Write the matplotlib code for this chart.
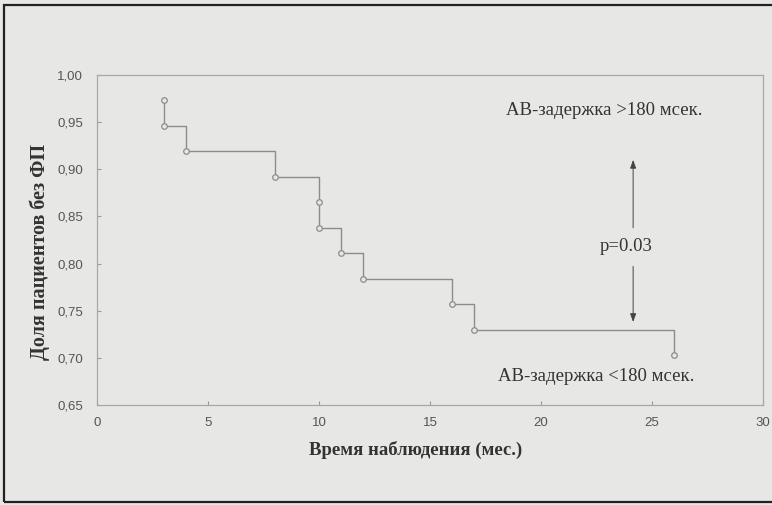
import matplotlib
matplotlib.use("Agg")
import matplotlib.pyplot as plt
from matplotlib.patches import Rectangle
from matplotlib.ticker import FuncFormatter

# Kaplan-Meier data (AV delay <180 ms group)
times = [3, 3, 4, 8, 10, 10, 11, 12, 16, 17, 26]
surv = [0.973, 0.946, 0.919, 0.892, 0.865, 0.838, 0.811, 0.784, 0.757, 0.730, 0.703]

x_ticks = [0, 5, 10, 15, 20, 25, 30]
y_ticks = [0.65, 0.70, 0.75, 0.80, 0.85, 0.90, 0.95, 1.00]

xlabel = "Время наблюдения (мес.)"
ylabel = "Доля пациентов без ФП"
label_hi = "АВ-задержка >180 мсек."
label_lo = "АВ-задержка <180 мсек."
p_text = "p=0.03"

bg = "#e7e7e5"
fig = plt.figure(figsize=(7.72, 5.05), dpi=100, facecolor=bg)
ax = fig.add_axes([97/772, 1-405/505, (763-97)/772, (405-75)/505])
ax.set_facecolor(bg)

ax.step(times, surv, where="post", color="#8c8c8c", lw=1.0)
ax.plot(times, surv, ls="none", marker="o", ms=4, mfc=bg, mec="#8c8c8c", mew=0.9)

ax.set_xlim(0, 30)
ax.set_ylim(0.65, 1.00)
ax.set_xticks(x_ticks)
ax.set_yticks(y_ticks)
ax.yaxis.set_major_formatter(FuncFormatter(lambda v, p: f"{v:.2f}".replace(".", ",")))
ax.tick_params(direction="in", length=3, color="#9a9a9a", labelcolor="#555555",
               labelsize=9.5)
ax.tick_params(axis="y", pad=10)
ax.tick_params(axis="x", pad=9)
for lab in ax.get_xticklabels() + ax.get_yticklabels():
    lab.set_family("Liberation Sans")
for s in ax.spines.values():
    s.set_color("#a8a8a8")
    s.set_linewidth(0.9)

serif = "Liberation Serif"
ax.set_xlabel(xlabel, family=serif, fontweight="bold", fontsize=13.5, color="#333333")
ax.set_ylabel(ylabel, family=serif, fontweight="bold", fontsize=14.5, color="#333333")
ax.xaxis.set_label_coords((416-97)/666, -(450-405)/330, transform=ax.transAxes)
ax.yaxis.set_label_coords(-(97-40)/666, 0.5 - 12/330, transform=ax.transAxes)
ax.xaxis.label.set_va("center")
ax.yaxis.label.set_va("center")

ax.text(22.85, 0.962, label_hi, family=serif, fontsize=13.5, color="#333333",
        ha="center", va="center")
ax.text(22.5, 0.6805, label_lo, family=serif, fontsize=13.5, color="#333333",
        ha="center", va="center")
ax.text(23.85, 0.8177, p_text, family=serif, fontsize=13.5, color="#333333",
        ha="center", va="center")

arrow_kw = dict(arrowstyle="-|>,head_length=0.5,head_width=0.18", color="#444444", lw=0.7)
ax.annotate("", xy=(24.15, 0.913), xytext=(24.15, 0.835), arrowprops=arrow_kw)
ax.annotate("", xy=(24.15, 0.735), xytext=(24.15, 0.800), arrowprops=arrow_kw)

# scan border
fig.add_artist(Rectangle((4/772, 3/505), 1.2, 1-8/505, transform=fig.transFigure,
                         fill=False, edgecolor="#222222", lw=1.6))

fig.savefig("out.png", dpi=100, facecolor=bg)
